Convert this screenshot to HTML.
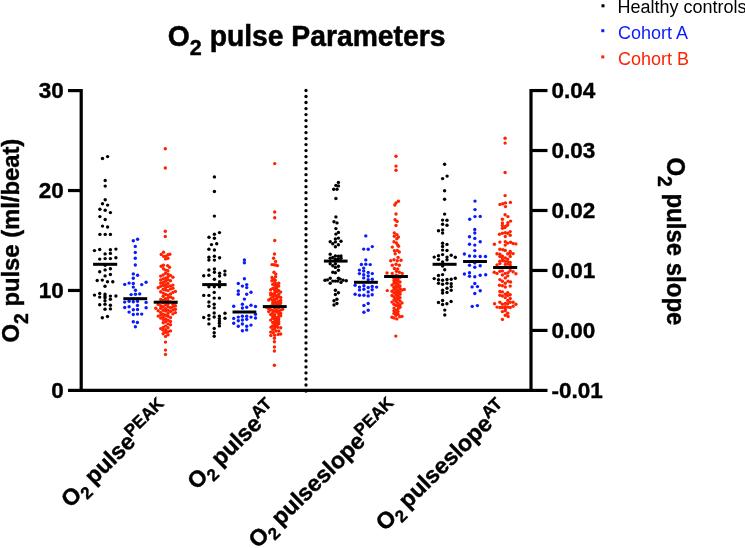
<!DOCTYPE html><html><head><meta charset="utf-8"><style>html,body{margin:0;padding:0;background:#fff;width:745px;height:548px;overflow:hidden;position:relative}svg{will-change:transform}</style></head><body><svg width="745" height="548" viewBox="0 0 745 548" style="position:absolute;left:0;top:0">
<g stroke="#000" stroke-width="3.2" fill="none" stroke-linecap="butt">
<path d="M81.2,89 V391.5"/>
<path d="M79.5,390.4 H531"/>
<path d="M531,89 V391.5"/>
<path d="M68,90.61 H81"/>
<path d="M68,190.54 H81"/>
<path d="M68,290.47 H81"/>
<path d="M68,390.40 H81"/>
<path d="M531,90.55 H547.5"/>
<path d="M531,150.52 H547.5"/>
<path d="M531,210.49 H547.5"/>
<path d="M531,270.46 H547.5"/>
<path d="M531,330.43 H547.5"/>
<path d="M531,390.40 H547.5"/>
</g>
<g fill="#000">
<circle cx="306" cy="90.50" r="1.65"/>
<circle cx="306" cy="96.51" r="1.65"/>
<circle cx="306" cy="102.52" r="1.65"/>
<circle cx="306" cy="108.53" r="1.65"/>
<circle cx="306" cy="114.54" r="1.65"/>
<circle cx="306" cy="120.55" r="1.65"/>
<circle cx="306" cy="126.56" r="1.65"/>
<circle cx="306" cy="132.57" r="1.65"/>
<circle cx="306" cy="138.58" r="1.65"/>
<circle cx="306" cy="144.59" r="1.65"/>
<circle cx="306" cy="150.60" r="1.65"/>
<circle cx="306" cy="156.61" r="1.65"/>
<circle cx="306" cy="162.62" r="1.65"/>
<circle cx="306" cy="168.63" r="1.65"/>
<circle cx="306" cy="174.64" r="1.65"/>
<circle cx="306" cy="180.65" r="1.65"/>
<circle cx="306" cy="186.66" r="1.65"/>
<circle cx="306" cy="192.67" r="1.65"/>
<circle cx="306" cy="198.68" r="1.65"/>
<circle cx="306" cy="204.69" r="1.65"/>
<circle cx="306" cy="210.70" r="1.65"/>
<circle cx="306" cy="216.71" r="1.65"/>
<circle cx="306" cy="222.72" r="1.65"/>
<circle cx="306" cy="228.73" r="1.65"/>
<circle cx="306" cy="234.74" r="1.65"/>
<circle cx="306" cy="240.75" r="1.65"/>
<circle cx="306" cy="246.76" r="1.65"/>
<circle cx="306" cy="252.77" r="1.65"/>
<circle cx="306" cy="258.78" r="1.65"/>
<circle cx="306" cy="264.79" r="1.65"/>
<circle cx="306" cy="270.80" r="1.65"/>
<circle cx="306" cy="276.81" r="1.65"/>
<circle cx="306" cy="282.82" r="1.65"/>
<circle cx="306" cy="288.83" r="1.65"/>
<circle cx="306" cy="294.84" r="1.65"/>
<circle cx="306" cy="300.85" r="1.65"/>
<circle cx="306" cy="306.86" r="1.65"/>
<circle cx="306" cy="312.87" r="1.65"/>
<circle cx="306" cy="318.88" r="1.65"/>
<circle cx="306" cy="324.89" r="1.65"/>
<circle cx="306" cy="330.90" r="1.65"/>
<circle cx="306" cy="336.91" r="1.65"/>
<circle cx="306" cy="342.92" r="1.65"/>
<circle cx="306" cy="348.93" r="1.65"/>
<circle cx="306" cy="354.94" r="1.65"/>
<circle cx="306" cy="360.95" r="1.65"/>
<circle cx="306" cy="366.96" r="1.65"/>
<circle cx="306" cy="372.97" r="1.65"/>
<circle cx="306" cy="378.98" r="1.65"/>
<circle cx="306" cy="384.99" r="1.65"/>
<circle cx="306" cy="391.00" r="1.65"/>
</g>
<g font-family="Liberation Sans" font-weight="bold" font-size="22.5" fill="#000" stroke="#000" stroke-width="0.4">
<text transform="translate(63.7,98.31) scale(1,1.02)" text-anchor="end">30</text>
<text transform="translate(63.7,198.24) scale(1,1.02)" text-anchor="end">20</text>
<text transform="translate(63.7,298.17) scale(1,1.02)" text-anchor="end">10</text>
<text transform="translate(63.7,398.10) scale(1,1.02)" text-anchor="end">0</text>
<text transform="translate(551.5,98.35) scale(1,1.0)">0.04</text>
<text transform="translate(551.5,158.32) scale(1,1.0)">0.03</text>
<text transform="translate(551.5,218.29) scale(1,1.0)">0.02</text>
<text transform="translate(551.5,278.26) scale(1,1.0)">0.01</text>
<text transform="translate(551.5,338.23) scale(1,1.0)">0.00</text>
<text transform="translate(551.5,398.20) scale(1,1.0)">-0.01</text>
</g>
<text transform="translate(167.8,46.3) scale(1,1.04)" font-family="Liberation Sans" font-weight="bold" font-size="28.3" fill="#000" stroke="#000" stroke-width="0.5">O<tspan font-size="21.5" dy="8.4">2</tspan><tspan dy="-8.4"> pulse Parameters</tspan></text>
<g font-family="Liberation Sans" font-size="18">
<text transform="translate(617.5,13.2) scale(1,1.07)" fill="#000">Healthy controls</text>
<text transform="translate(617.9,38.9) scale(1,1.07)" fill="#0a1cff">Cohort A</text>
<text transform="translate(617.9,64.7) scale(1,1.07)" fill="#ff2200">Cohort B</text>
</g>
<rect x="601.5" y="4.3" width="3" height="3" fill="#000"/>
<rect x="601.3" y="29.2" width="3" height="3" fill="#0a1cff"/>
<rect x="601.3" y="55.4" width="3" height="3" fill="#ff2200"/>
<text transform="translate(18.6,342.4) rotate(-90) scale(1,1.04)" font-family="Liberation Sans" font-weight="bold" font-size="23.8" fill="#000" stroke="#000" stroke-width="0.4">O<tspan font-size="19.3" dy="8.6">2</tspan><tspan dy="-8.6"> pulse (ml/beat)</tspan></text>
<text transform="translate(667,157.4) rotate(90) scale(1,1.04)" font-family="Liberation Sans" font-weight="bold" font-size="24" fill="#000" stroke="#000" stroke-width="0.4">O<tspan font-size="19.3" dy="8.8">2</tspan><tspan dy="-8.8"> pulse slope</tspan></text>
<text transform="translate(170,410) rotate(-44.4) translate(0,0.5)" text-anchor="end" font-family="Liberation Sans" font-weight="bold" font-size="23" fill="#000" stroke="#000" stroke-width="0.4">O<tspan font-size="17" dy="6">2</tspan><tspan dy="-6" dx="-0.8"> pulse</tspan><tspan font-size="17" dy="-8">PEAK</tspan></text>
<text transform="translate(278,410) rotate(-44.4) translate(0,0.5)" text-anchor="end" font-family="Liberation Sans" font-weight="bold" font-size="23" fill="#000" stroke="#000" stroke-width="0.4">O<tspan font-size="17" dy="6">2</tspan><tspan dy="-6" dx="-0.8"> pulse</tspan><tspan font-size="17" dy="-8">AT</tspan></text>
<text transform="translate(399.8,409.3) rotate(-44.4) translate(0,0.5)" text-anchor="end" font-family="Liberation Sans" font-weight="bold" font-size="23" fill="#000" stroke="#000" stroke-width="0.4">O<tspan font-size="17" dy="6">2</tspan><tspan dy="-6" dx="-1.8"> pulseslope</tspan><tspan font-size="17" dy="-8">PEAK</tspan></text>
<text transform="translate(508.5,410) rotate(-44.4) translate(0,0.5)" text-anchor="end" font-family="Liberation Sans" font-weight="bold" font-size="23" fill="#000" stroke="#000" stroke-width="0.4">O<tspan font-size="17" dy="6">2</tspan><tspan dy="-6" dx="-1.8"> pulseslope</tspan><tspan font-size="17" dy="-8">AT</tspan></text>
<g fill="#000">
<circle cx="102.5" cy="158.5" r="1.7"/>
<circle cx="107.6" cy="156.6" r="1.7"/>
<circle cx="105.2" cy="180.5" r="1.7"/>
<circle cx="105.2" cy="186.1" r="1.7"/>
<circle cx="105.2" cy="199.7" r="1.7"/>
<circle cx="102.5" cy="203.8" r="1.7"/>
<circle cx="107.6" cy="205.1" r="1.7"/>
<circle cx="99.9" cy="209.3" r="1.7"/>
<circle cx="105.2" cy="210.3" r="1.7"/>
<circle cx="110.4" cy="212.6" r="1.7"/>
<circle cx="99.9" cy="216.6" r="1.7"/>
<circle cx="105.2" cy="219.5" r="1.7"/>
<circle cx="102.5" cy="226.1" r="1.7"/>
<circle cx="107.6" cy="227.0" r="1.7"/>
<circle cx="99.9" cy="234.4" r="1.7"/>
<circle cx="105.2" cy="234.4" r="1.7"/>
<circle cx="110.4" cy="234.4" r="1.7"/>
<circle cx="94.5" cy="250.6" r="1.7"/>
<circle cx="99.7" cy="249.5" r="1.7"/>
<circle cx="110.4" cy="249.7" r="1.7"/>
<circle cx="115.9" cy="249.1" r="1.7"/>
<circle cx="105.1" cy="253.9" r="1.7"/>
<circle cx="110.4" cy="253.4" r="1.7"/>
<circle cx="99.7" cy="259.1" r="1.7"/>
<circle cx="105.1" cy="258.6" r="1.7"/>
<circle cx="110.4" cy="258.6" r="1.7"/>
<circle cx="115.9" cy="257.7" r="1.7"/>
<circle cx="105.1" cy="265.2" r="1.7"/>
<circle cx="110.4" cy="268.8" r="1.7"/>
<circle cx="105.1" cy="269.9" r="1.7"/>
<circle cx="99.7" cy="271.8" r="1.7"/>
<circle cx="110.4" cy="274.5" r="1.7"/>
<circle cx="105.1" cy="275.9" r="1.7"/>
<circle cx="97.2" cy="280.5" r="1.7"/>
<circle cx="102.3" cy="280.1" r="1.7"/>
<circle cx="107.5" cy="281.8" r="1.7"/>
<circle cx="112.8" cy="281.8" r="1.7"/>
<circle cx="105.0" cy="286.3" r="1.7"/>
<circle cx="94.5" cy="295.1" r="1.7"/>
<circle cx="99.7" cy="293.5" r="1.7"/>
<circle cx="99.7" cy="297.1" r="1.7"/>
<circle cx="105.0" cy="294.1" r="1.7"/>
<circle cx="105.0" cy="296.0" r="1.7"/>
<circle cx="105.0" cy="297.8" r="1.7"/>
<circle cx="110.4" cy="296.1" r="1.7"/>
<circle cx="110.4" cy="299.3" r="1.7"/>
<circle cx="115.9" cy="296.0" r="1.7"/>
<circle cx="105.0" cy="300.7" r="1.7"/>
<circle cx="105.0" cy="304.3" r="1.7"/>
<circle cx="99.7" cy="304.8" r="1.7"/>
<circle cx="110.4" cy="305.2" r="1.7"/>
<circle cx="110.4" cy="308.9" r="1.7"/>
<circle cx="105.0" cy="309.3" r="1.7"/>
<circle cx="102.3" cy="317.7" r="1.7"/>
<circle cx="107.5" cy="316.5" r="1.7"/>
</g>
<g fill="#000">
<circle cx="214.4" cy="176.9" r="1.7"/>
<circle cx="214.4" cy="191.5" r="1.7"/>
<circle cx="214.4" cy="216.1" r="1.7"/>
<circle cx="219.5" cy="232.6" r="1.7"/>
<circle cx="214.4" cy="234.3" r="1.7"/>
<circle cx="209.0" cy="237.3" r="1.7"/>
<circle cx="214.4" cy="238.3" r="1.7"/>
<circle cx="211.5" cy="244.6" r="1.7"/>
<circle cx="216.7" cy="243.8" r="1.7"/>
<circle cx="208.9" cy="249.2" r="1.7"/>
<circle cx="214.4" cy="250.0" r="1.7"/>
<circle cx="208.9" cy="257.3" r="1.7"/>
<circle cx="208.9" cy="260.1" r="1.7"/>
<circle cx="214.4" cy="256.2" r="1.7"/>
<circle cx="214.4" cy="260.1" r="1.7"/>
<circle cx="219.6" cy="257.7" r="1.7"/>
<circle cx="208.9" cy="270.0" r="1.7"/>
<circle cx="214.4" cy="269.0" r="1.7"/>
<circle cx="214.4" cy="272.2" r="1.7"/>
<circle cx="219.6" cy="273.2" r="1.7"/>
<circle cx="219.6" cy="276.1" r="1.7"/>
<circle cx="224.9" cy="271.1" r="1.7"/>
<circle cx="224.9" cy="274.7" r="1.7"/>
<circle cx="203.7" cy="275.7" r="1.7"/>
<circle cx="208.9" cy="275.3" r="1.7"/>
<circle cx="214.4" cy="279.3" r="1.7"/>
<circle cx="219.6" cy="281.8" r="1.7"/>
<circle cx="208.9" cy="286.8" r="1.7"/>
<circle cx="214.3" cy="286.8" r="1.7"/>
<circle cx="219.5" cy="286.8" r="1.7"/>
<circle cx="214.2" cy="292.4" r="1.7"/>
<circle cx="203.7" cy="295.4" r="1.7"/>
<circle cx="208.9" cy="295.4" r="1.7"/>
<circle cx="214.2" cy="298.1" r="1.7"/>
<circle cx="219.4" cy="298.1" r="1.7"/>
<circle cx="208.9" cy="302.0" r="1.7"/>
<circle cx="208.9" cy="306.2" r="1.7"/>
<circle cx="214.2" cy="304.2" r="1.7"/>
<circle cx="214.2" cy="307.9" r="1.7"/>
<circle cx="214.2" cy="313.0" r="1.7"/>
<circle cx="225.0" cy="313.2" r="1.7"/>
<circle cx="203.7" cy="317.5" r="1.7"/>
<circle cx="208.9" cy="315.4" r="1.7"/>
<circle cx="208.9" cy="319.1" r="1.7"/>
<circle cx="214.2" cy="317.0" r="1.7"/>
<circle cx="219.4" cy="316.1" r="1.7"/>
<circle cx="219.4" cy="318.6" r="1.7"/>
<circle cx="219.4" cy="320.9" r="1.7"/>
<circle cx="219.4" cy="323.2" r="1.7"/>
<circle cx="219.4" cy="325.9" r="1.7"/>
<circle cx="225.0" cy="318.2" r="1.7"/>
<circle cx="208.9" cy="323.9" r="1.7"/>
<circle cx="214.2" cy="328.5" r="1.7"/>
<circle cx="214.2" cy="332.8" r="1.7"/>
<circle cx="214.2" cy="336.2" r="1.7"/>
</g>
<g fill="#000">
<circle cx="338.4" cy="182.4" r="1.7"/>
<circle cx="335.9" cy="185.4" r="1.7"/>
<circle cx="338.4" cy="185.9" r="1.7"/>
<circle cx="333.7" cy="189.2" r="1.7"/>
<circle cx="337.0" cy="189.2" r="1.7"/>
<circle cx="335.9" cy="198.5" r="1.7"/>
<circle cx="335.9" cy="216.9" r="1.7"/>
<circle cx="334.0" cy="221.8" r="1.7"/>
<circle cx="337.0" cy="222.9" r="1.7"/>
<circle cx="335.9" cy="228.6" r="1.7"/>
<circle cx="338.4" cy="232.4" r="1.7"/>
<circle cx="335.9" cy="234.1" r="1.7"/>
<circle cx="335.4" cy="238.9" r="1.7"/>
<circle cx="338.4" cy="238.1" r="1.7"/>
<circle cx="330.2" cy="241.7" r="1.7"/>
<circle cx="335.4" cy="241.9" r="1.7"/>
<circle cx="341.0" cy="241.3" r="1.7"/>
<circle cx="332.8" cy="243.8" r="1.7"/>
<circle cx="338.4" cy="244.8" r="1.7"/>
<circle cx="335.4" cy="246.8" r="1.7"/>
<circle cx="330.2" cy="254.2" r="1.7"/>
<circle cx="335.4" cy="255.9" r="1.7"/>
<circle cx="338.4" cy="256.1" r="1.7"/>
<circle cx="341.0" cy="255.9" r="1.7"/>
<circle cx="330.2" cy="258.3" r="1.7"/>
<circle cx="332.8" cy="257.5" r="1.7"/>
<circle cx="335.4" cy="259.2" r="1.7"/>
<circle cx="338.4" cy="258.8" r="1.7"/>
<circle cx="341.0" cy="258.3" r="1.7"/>
<circle cx="330.2" cy="263.7" r="1.7"/>
<circle cx="332.8" cy="265.7" r="1.7"/>
<circle cx="335.4" cy="263.7" r="1.7"/>
<circle cx="335.4" cy="267.4" r="1.7"/>
<circle cx="338.4" cy="266.2" r="1.7"/>
<circle cx="338.4" cy="270.3" r="1.7"/>
<circle cx="332.8" cy="272.3" r="1.7"/>
<circle cx="335.4" cy="272.7" r="1.7"/>
<circle cx="325.0" cy="280.3" r="1.7"/>
<circle cx="327.4" cy="279.9" r="1.7"/>
<circle cx="330.2" cy="278.3" r="1.7"/>
<circle cx="330.2" cy="283.2" r="1.7"/>
<circle cx="332.8" cy="281.1" r="1.7"/>
<circle cx="335.4" cy="281.1" r="1.7"/>
<circle cx="337.7" cy="281.1" r="1.7"/>
<circle cx="338.4" cy="278.3" r="1.7"/>
<circle cx="340.2" cy="279.1" r="1.7"/>
<circle cx="341.0" cy="282.4" r="1.7"/>
<circle cx="343.1" cy="280.3" r="1.7"/>
<circle cx="346.3" cy="280.7" r="1.7"/>
<circle cx="335.4" cy="290.2" r="1.7"/>
<circle cx="338.4" cy="292.7" r="1.7"/>
<circle cx="335.4" cy="294.5" r="1.7"/>
<circle cx="336.9" cy="299.2" r="1.7"/>
<circle cx="334.0" cy="300.7" r="1.7"/>
<circle cx="336.9" cy="303.5" r="1.7"/>
<circle cx="334.0" cy="305.0" r="1.7"/>
</g>
<g fill="#000">
<circle cx="444.6" cy="164.3" r="1.7"/>
<circle cx="447.1" cy="176.1" r="1.7"/>
<circle cx="442.6" cy="178.6" r="1.7"/>
<circle cx="444.6" cy="190.8" r="1.7"/>
<circle cx="444.6" cy="199.2" r="1.7"/>
<circle cx="444.6" cy="214.1" r="1.7"/>
<circle cx="442.6" cy="220.1" r="1.7"/>
<circle cx="447.0" cy="220.3" r="1.7"/>
<circle cx="442.6" cy="224.3" r="1.7"/>
<circle cx="447.0" cy="225.3" r="1.7"/>
<circle cx="438.5" cy="230.8" r="1.7"/>
<circle cx="442.6" cy="230.0" r="1.7"/>
<circle cx="442.6" cy="233.1" r="1.7"/>
<circle cx="442.6" cy="243.2" r="1.7"/>
<circle cx="442.6" cy="246.5" r="1.7"/>
<circle cx="447.0" cy="244.4" r="1.7"/>
<circle cx="442.6" cy="250.1" r="1.7"/>
<circle cx="447.0" cy="250.5" r="1.7"/>
<circle cx="442.6" cy="254.6" r="1.7"/>
<circle cx="434.2" cy="257.1" r="1.7"/>
<circle cx="438.5" cy="255.7" r="1.7"/>
<circle cx="438.5" cy="259.4" r="1.7"/>
<circle cx="447.0" cy="257.1" r="1.7"/>
<circle cx="451.2" cy="255.3" r="1.7"/>
<circle cx="455.3" cy="257.3" r="1.7"/>
<circle cx="447.0" cy="259.8" r="1.7"/>
<circle cx="442.6" cy="262.0" r="1.7"/>
<circle cx="442.6" cy="266.1" r="1.7"/>
<circle cx="444.7" cy="269.8" r="1.7"/>
<circle cx="438.5" cy="275.5" r="1.7"/>
<circle cx="442.6" cy="274.6" r="1.7"/>
<circle cx="434.2" cy="278.6" r="1.7"/>
<circle cx="438.5" cy="279.8" r="1.7"/>
<circle cx="438.5" cy="283.3" r="1.7"/>
<circle cx="442.6" cy="280.3" r="1.7"/>
<circle cx="442.6" cy="284.2" r="1.7"/>
<circle cx="447.0" cy="279.5" r="1.7"/>
<circle cx="447.0" cy="283.3" r="1.7"/>
<circle cx="451.2" cy="279.2" r="1.7"/>
<circle cx="451.2" cy="283.8" r="1.7"/>
<circle cx="451.2" cy="286.6" r="1.7"/>
<circle cx="451.2" cy="290.3" r="1.7"/>
<circle cx="455.3" cy="278.2" r="1.7"/>
<circle cx="447.0" cy="288.3" r="1.7"/>
<circle cx="447.0" cy="292.4" r="1.7"/>
<circle cx="442.6" cy="290.2" r="1.7"/>
<circle cx="442.6" cy="293.0" r="1.7"/>
<circle cx="442.6" cy="300.5" r="1.7"/>
<circle cx="438.5" cy="302.5" r="1.7"/>
<circle cx="442.6" cy="304.5" r="1.7"/>
<circle cx="446.9" cy="303.8" r="1.7"/>
<circle cx="451.1" cy="301.5" r="1.7"/>
<circle cx="444.8" cy="310.1" r="1.7"/>
<circle cx="444.8" cy="315.0" r="1.7"/>
</g>
<g fill="#0a1cff">
<circle cx="133.3" cy="240.7" r="1.7"/>
<circle cx="137.6" cy="239.3" r="1.7"/>
<circle cx="135.3" cy="246.4" r="1.7"/>
<circle cx="135.3" cy="252.5" r="1.7"/>
<circle cx="135.3" cy="258.3" r="1.7"/>
<circle cx="135.3" cy="265.0" r="1.7"/>
<circle cx="133.3" cy="273.9" r="1.7"/>
<circle cx="137.6" cy="275.3" r="1.7"/>
<circle cx="133.3" cy="278.3" r="1.7"/>
<circle cx="124.7" cy="284.4" r="1.7"/>
<circle cx="129.1" cy="283.1" r="1.7"/>
<circle cx="133.3" cy="283.5" r="1.7"/>
<circle cx="141.7" cy="284.6" r="1.7"/>
<circle cx="146.1" cy="282.2" r="1.7"/>
<circle cx="133.3" cy="287.1" r="1.7"/>
<circle cx="135.5" cy="290.3" r="1.7"/>
<circle cx="131.1" cy="294.6" r="1.7"/>
<circle cx="135.5" cy="294.2" r="1.7"/>
<circle cx="139.7" cy="293.9" r="1.7"/>
<circle cx="124.7" cy="302.1" r="1.7"/>
<circle cx="129.1" cy="301.3" r="1.7"/>
<circle cx="133.3" cy="301.7" r="1.7"/>
<circle cx="137.5" cy="301.3" r="1.7"/>
<circle cx="146.1" cy="302.4" r="1.7"/>
<circle cx="137.5" cy="305.4" r="1.7"/>
<circle cx="124.7" cy="307.5" r="1.7"/>
<circle cx="129.1" cy="306.8" r="1.7"/>
<circle cx="146.1" cy="307.8" r="1.7"/>
<circle cx="133.3" cy="309.7" r="1.7"/>
<circle cx="137.5" cy="309.5" r="1.7"/>
<circle cx="129.1" cy="312.1" r="1.7"/>
<circle cx="133.3" cy="314.5" r="1.7"/>
<circle cx="137.5" cy="314.1" r="1.7"/>
<circle cx="141.7" cy="314.1" r="1.7"/>
<circle cx="133.3" cy="321.8" r="1.7"/>
<circle cx="137.4" cy="322.5" r="1.7"/>
<circle cx="135.4" cy="326.7" r="1.7"/>
<circle cx="133.3" cy="299.0" r="1.7"/>
<circle cx="137.5" cy="299.0" r="1.7"/>
</g>
<g fill="#0a1cff">
<circle cx="244.4" cy="259.9" r="1.7"/>
<circle cx="244.4" cy="262.7" r="1.7"/>
<circle cx="244.4" cy="278.7" r="1.7"/>
<circle cx="238.3" cy="283.5" r="1.7"/>
<circle cx="242.4" cy="286.1" r="1.7"/>
<circle cx="246.7" cy="284.6" r="1.7"/>
<circle cx="246.7" cy="287.6" r="1.7"/>
<circle cx="238.3" cy="291.0" r="1.7"/>
<circle cx="238.3" cy="294.3" r="1.7"/>
<circle cx="246.7" cy="294.3" r="1.7"/>
<circle cx="251.0" cy="292.3" r="1.7"/>
<circle cx="244.4" cy="299.1" r="1.7"/>
<circle cx="233.7" cy="306.2" r="1.7"/>
<circle cx="242.4" cy="304.2" r="1.7"/>
<circle cx="242.4" cy="308.0" r="1.7"/>
<circle cx="246.7" cy="307.3" r="1.7"/>
<circle cx="251.0" cy="305.2" r="1.7"/>
<circle cx="255.5" cy="306.5" r="1.7"/>
<circle cx="255.5" cy="314.3" r="1.7"/>
<circle cx="233.7" cy="318.4" r="1.7"/>
<circle cx="238.3" cy="317.1" r="1.7"/>
<circle cx="238.3" cy="320.8" r="1.7"/>
<circle cx="242.4" cy="316.3" r="1.7"/>
<circle cx="242.4" cy="320.0" r="1.7"/>
<circle cx="246.7" cy="316.3" r="1.7"/>
<circle cx="246.7" cy="319.2" r="1.7"/>
<circle cx="251.0" cy="317.1" r="1.7"/>
<circle cx="255.5" cy="318.0" r="1.7"/>
<circle cx="233.7" cy="323.3" r="1.7"/>
<circle cx="238.3" cy="326.2" r="1.7"/>
<circle cx="242.4" cy="324.0" r="1.7"/>
<circle cx="246.7" cy="326.2" r="1.7"/>
<circle cx="246.7" cy="329.9" r="1.7"/>
<circle cx="251.0" cy="325.1" r="1.7"/>
<circle cx="242.4" cy="330.7" r="1.7"/>
</g>
<g fill="#0a1cff">
<circle cx="365.8" cy="235.9" r="1.7"/>
<circle cx="363.7" cy="249.1" r="1.7"/>
<circle cx="368.2" cy="249.3" r="1.7"/>
<circle cx="372.3" cy="246.6" r="1.7"/>
<circle cx="365.8" cy="259.9" r="1.7"/>
<circle cx="361.4" cy="264.5" r="1.7"/>
<circle cx="365.8" cy="264.2" r="1.7"/>
<circle cx="370.2" cy="264.6" r="1.7"/>
<circle cx="363.7" cy="268.1" r="1.7"/>
<circle cx="359.4" cy="270.1" r="1.7"/>
<circle cx="363.7" cy="271.0" r="1.7"/>
<circle cx="359.4" cy="273.6" r="1.7"/>
<circle cx="363.7" cy="274.7" r="1.7"/>
<circle cx="368.2" cy="272.4" r="1.7"/>
<circle cx="368.2" cy="276.0" r="1.7"/>
<circle cx="372.3" cy="273.6" r="1.7"/>
<circle cx="363.7" cy="277.9" r="1.7"/>
<circle cx="372.3" cy="279.2" r="1.7"/>
<circle cx="368.2" cy="279.7" r="1.7"/>
<circle cx="355.1" cy="285.3" r="1.7"/>
<circle cx="359.5" cy="287.1" r="1.7"/>
<circle cx="363.9" cy="285.7" r="1.7"/>
<circle cx="368.2" cy="287.5" r="1.7"/>
<circle cx="372.2" cy="286.5" r="1.7"/>
<circle cx="376.6" cy="287.1" r="1.7"/>
<circle cx="359.5" cy="289.9" r="1.7"/>
<circle cx="363.9" cy="289.3" r="1.7"/>
<circle cx="372.2" cy="289.7" r="1.7"/>
<circle cx="368.2" cy="291.9" r="1.7"/>
<circle cx="355.1" cy="294.3" r="1.7"/>
<circle cx="359.5" cy="295.2" r="1.7"/>
<circle cx="363.9" cy="295.3" r="1.7"/>
<circle cx="368.2" cy="295.9" r="1.7"/>
<circle cx="372.2" cy="294.8" r="1.7"/>
<circle cx="368.2" cy="303.5" r="1.7"/>
<circle cx="363.9" cy="305.5" r="1.7"/>
<circle cx="368.2" cy="310.3" r="1.7"/>
<circle cx="363.9" cy="312.3" r="1.7"/>
</g>
<g fill="#0a1cff">
<circle cx="475.0" cy="201.1" r="1.7"/>
<circle cx="475.0" cy="209.6" r="1.7"/>
<circle cx="475.0" cy="216.6" r="1.7"/>
<circle cx="480.2" cy="216.4" r="1.7"/>
<circle cx="469.7" cy="219.2" r="1.7"/>
<circle cx="474.8" cy="229.5" r="1.7"/>
<circle cx="474.8" cy="233.0" r="1.7"/>
<circle cx="469.5" cy="236.7" r="1.7"/>
<circle cx="474.8" cy="238.4" r="1.7"/>
<circle cx="480.2" cy="241.7" r="1.7"/>
<circle cx="469.5" cy="244.3" r="1.7"/>
<circle cx="474.8" cy="245.1" r="1.7"/>
<circle cx="474.8" cy="250.6" r="1.7"/>
<circle cx="464.4" cy="254.0" r="1.7"/>
<circle cx="469.5" cy="256.0" r="1.7"/>
<circle cx="474.8" cy="256.2" r="1.7"/>
<circle cx="480.2" cy="256.5" r="1.7"/>
<circle cx="485.5" cy="256.5" r="1.7"/>
<circle cx="474.8" cy="262.9" r="1.7"/>
<circle cx="469.5" cy="265.2" r="1.7"/>
<circle cx="474.8" cy="267.2" r="1.7"/>
<circle cx="480.2" cy="265.8" r="1.7"/>
<circle cx="464.4" cy="274.0" r="1.7"/>
<circle cx="469.5" cy="272.8" r="1.7"/>
<circle cx="469.5" cy="276.2" r="1.7"/>
<circle cx="474.8" cy="276.7" r="1.7"/>
<circle cx="480.2" cy="275.3" r="1.7"/>
<circle cx="485.7" cy="274.8" r="1.7"/>
<circle cx="474.8" cy="283.5" r="1.7"/>
<circle cx="472.1" cy="286.9" r="1.7"/>
<circle cx="477.5" cy="286.6" r="1.7"/>
<circle cx="480.2" cy="290.7" r="1.7"/>
<circle cx="474.8" cy="293.5" r="1.7"/>
<circle cx="472.2" cy="306.4" r="1.7"/>
<circle cx="477.4" cy="305.6" r="1.7"/>
</g>
<g fill="#ff2200">
<circle cx="165.3" cy="148.8" r="1.7"/>
<circle cx="165.3" cy="168.0" r="1.7"/>
<circle cx="165.3" cy="231.2" r="1.7"/>
<circle cx="165.3" cy="236.5" r="1.7"/>
<circle cx="163.5" cy="252.2" r="1.7"/>
<circle cx="161.2" cy="254.5" r="1.7"/>
<circle cx="163.7" cy="256.4" r="1.7"/>
<circle cx="166.0" cy="256.1" r="1.7"/>
<circle cx="167.9" cy="254.8" r="1.7"/>
<circle cx="169.8" cy="254.3" r="1.7"/>
<circle cx="165.6" cy="258.9" r="1.7"/>
<circle cx="167.9" cy="258.2" r="1.7"/>
<circle cx="161.2" cy="266.3" r="1.7"/>
<circle cx="163.4" cy="265.3" r="1.7"/>
<circle cx="167.6" cy="265.6" r="1.7"/>
<circle cx="169.5" cy="267.2" r="1.7"/>
<circle cx="163.4" cy="268.8" r="1.7"/>
<circle cx="165.6" cy="270.1" r="1.7"/>
<circle cx="167.9" cy="270.8" r="1.7"/>
<circle cx="165.5" cy="342.1" r="1.7"/>
<circle cx="165.5" cy="350.1" r="1.7"/>
<circle cx="165.5" cy="354.4" r="1.7"/>
<circle cx="165.6" cy="321.8" r="1.7"/>
<circle cx="165.6" cy="315.3" r="1.7"/>
<circle cx="165.6" cy="304.9" r="1.7"/>
<circle cx="165.6" cy="298.8" r="1.7"/>
<circle cx="165.6" cy="281.3" r="1.7"/>
<circle cx="168.0" cy="323.9" r="1.7"/>
<circle cx="165.6" cy="336.4" r="1.7"/>
<circle cx="168.0" cy="306.6" r="1.7"/>
<circle cx="168.0" cy="334.8" r="1.7"/>
<circle cx="165.6" cy="301.6" r="1.7"/>
<circle cx="165.6" cy="278.2" r="1.7"/>
<circle cx="165.6" cy="290.1" r="1.7"/>
<circle cx="163.2" cy="306.7" r="1.7"/>
<circle cx="170.5" cy="321.4" r="1.7"/>
<circle cx="165.6" cy="326.1" r="1.7"/>
<circle cx="168.0" cy="320.2" r="1.7"/>
<circle cx="168.0" cy="279.7" r="1.7"/>
<circle cx="168.0" cy="297.7" r="1.7"/>
<circle cx="163.2" cy="319.6" r="1.7"/>
<circle cx="165.6" cy="273.3" r="1.7"/>
<circle cx="165.6" cy="308.6" r="1.7"/>
<circle cx="168.0" cy="300.6" r="1.7"/>
<circle cx="170.5" cy="301.9" r="1.7"/>
<circle cx="168.0" cy="310.3" r="1.7"/>
<circle cx="165.6" cy="332.4" r="1.7"/>
<circle cx="165.6" cy="287.5" r="1.7"/>
<circle cx="165.6" cy="311.1" r="1.7"/>
<circle cx="168.0" cy="286.6" r="1.7"/>
<circle cx="168.0" cy="316.3" r="1.7"/>
<circle cx="172.9" cy="306.9" r="1.7"/>
<circle cx="163.2" cy="300.2" r="1.7"/>
<circle cx="165.6" cy="294.5" r="1.7"/>
<circle cx="163.2" cy="296.3" r="1.7"/>
<circle cx="168.0" cy="276.8" r="1.7"/>
<circle cx="170.5" cy="307.7" r="1.7"/>
<circle cx="163.2" cy="310.3" r="1.7"/>
<circle cx="168.0" cy="327.8" r="1.7"/>
<circle cx="163.2" cy="285.4" r="1.7"/>
<circle cx="163.2" cy="317.1" r="1.7"/>
<circle cx="163.2" cy="275.0" r="1.7"/>
<circle cx="170.5" cy="275.4" r="1.7"/>
<circle cx="168.0" cy="283.4" r="1.7"/>
<circle cx="168.0" cy="290.6" r="1.7"/>
<circle cx="163.2" cy="289.3" r="1.7"/>
<circle cx="163.2" cy="322.8" r="1.7"/>
<circle cx="170.5" cy="311.5" r="1.7"/>
<circle cx="168.0" cy="274.1" r="1.7"/>
<circle cx="168.0" cy="304.0" r="1.7"/>
<circle cx="163.2" cy="314.2" r="1.7"/>
<circle cx="165.6" cy="329.7" r="1.7"/>
<circle cx="163.2" cy="333.7" r="1.7"/>
<circle cx="160.7" cy="305.7" r="1.7"/>
<circle cx="170.5" cy="324.7" r="1.7"/>
<circle cx="160.7" cy="299.5" r="1.7"/>
<circle cx="168.0" cy="295.1" r="1.7"/>
<circle cx="160.7" cy="312.4" r="1.7"/>
<circle cx="160.7" cy="283.1" r="1.7"/>
<circle cx="163.2" cy="278.9" r="1.7"/>
<circle cx="172.9" cy="313.9" r="1.7"/>
<circle cx="163.2" cy="302.8" r="1.7"/>
<circle cx="160.7" cy="308.3" r="1.7"/>
<circle cx="170.5" cy="280.8" r="1.7"/>
<circle cx="170.5" cy="293.9" r="1.7"/>
<circle cx="170.5" cy="297.0" r="1.7"/>
<circle cx="172.9" cy="310.0" r="1.7"/>
<circle cx="168.0" cy="331.6" r="1.7"/>
<circle cx="175.4" cy="312.6" r="1.7"/>
<circle cx="172.9" cy="304.3" r="1.7"/>
<circle cx="160.7" cy="291.7" r="1.7"/>
<circle cx="163.2" cy="293.1" r="1.7"/>
<circle cx="158.2" cy="310.8" r="1.7"/>
<circle cx="160.7" cy="276.1" r="1.7"/>
<circle cx="163.2" cy="330.2" r="1.7"/>
<circle cx="163.2" cy="282.5" r="1.7"/>
<circle cx="172.9" cy="277.3" r="1.7"/>
<circle cx="175.4" cy="305.9" r="1.7"/>
<circle cx="160.7" cy="280.0" r="1.7"/>
<circle cx="170.5" cy="330.9" r="1.7"/>
<circle cx="160.7" cy="328.6" r="1.7"/>
<circle cx="170.5" cy="288.9" r="1.7"/>
<circle cx="168.0" cy="313.4" r="1.7"/>
<circle cx="163.2" cy="327.5" r="1.7"/>
<circle cx="160.7" cy="286.2" r="1.7"/>
<circle cx="172.9" cy="288.3" r="1.7"/>
<circle cx="172.9" cy="292.4" r="1.7"/>
<circle cx="170.5" cy="317.5" r="1.7"/>
<circle cx="175.4" cy="291.4" r="1.7"/>
<circle cx="172.9" cy="298.3" r="1.7"/>
<circle cx="170.5" cy="285.9" r="1.7"/>
<circle cx="165.6" cy="319.0" r="1.7"/>
<circle cx="158.2" cy="287.7" r="1.7"/>
<circle cx="158.2" cy="304.4" r="1.7"/>
<circle cx="172.9" cy="285.1" r="1.7"/>
<circle cx="160.7" cy="315.1" r="1.7"/>
<circle cx="175.4" cy="309.2" r="1.7"/>
<circle cx="158.2" cy="316.1" r="1.7"/>
<circle cx="165.6" cy="284.6" r="1.7"/>
<circle cx="155.8" cy="308.2" r="1.7"/>
<circle cx="160.7" cy="318.1" r="1.7"/>
<circle cx="175.4" cy="303.1" r="1.7"/>
</g>
<g fill="#ff2200">
<circle cx="274.7" cy="163.6" r="1.7"/>
<circle cx="274.7" cy="212.0" r="1.7"/>
<circle cx="274.7" cy="217.7" r="1.7"/>
<circle cx="274.7" cy="240.5" r="1.7"/>
<circle cx="274.5" cy="254.0" r="1.7"/>
<circle cx="273.6" cy="258.3" r="1.7"/>
<circle cx="275.6" cy="261.4" r="1.7"/>
<circle cx="272.0" cy="264.6" r="1.7"/>
<circle cx="274.0" cy="264.7" r="1.7"/>
<circle cx="275.9" cy="265.0" r="1.7"/>
<circle cx="277.5" cy="265.6" r="1.7"/>
<circle cx="274.0" cy="272.3" r="1.7"/>
<circle cx="275.8" cy="274.1" r="1.7"/>
<circle cx="272.0" cy="277.5" r="1.7"/>
<circle cx="275.6" cy="276.8" r="1.7"/>
<circle cx="273.6" cy="279.1" r="1.7"/>
<circle cx="272.0" cy="280.7" r="1.7"/>
<circle cx="275.2" cy="280.3" r="1.7"/>
<circle cx="271.1" cy="327.3" r="1.7"/>
<circle cx="277.7" cy="327.3" r="1.7"/>
<circle cx="276.0" cy="331.1" r="1.7"/>
<circle cx="273.3" cy="332.8" r="1.7"/>
<circle cx="270.9" cy="335.5" r="1.7"/>
<circle cx="278.2" cy="334.4" r="1.7"/>
<circle cx="274.4" cy="338.3" r="1.7"/>
<circle cx="274.4" cy="341.8" r="1.7"/>
<circle cx="274.4" cy="347.0" r="1.7"/>
<circle cx="274.4" cy="351.0" r="1.7"/>
<circle cx="274.4" cy="365.3" r="1.7"/>
<circle cx="274.7" cy="314.7" r="1.7"/>
<circle cx="274.7" cy="285.1" r="1.7"/>
<circle cx="274.7" cy="287.8" r="1.7"/>
<circle cx="274.7" cy="321.6" r="1.7"/>
<circle cx="276.7" cy="323.0" r="1.7"/>
<circle cx="274.7" cy="299.0" r="1.7"/>
<circle cx="274.7" cy="335.2" r="1.7"/>
<circle cx="274.7" cy="295.4" r="1.7"/>
<circle cx="274.7" cy="311.1" r="1.7"/>
<circle cx="276.7" cy="298.5" r="1.7"/>
<circle cx="276.7" cy="289.1" r="1.7"/>
<circle cx="274.7" cy="319.3" r="1.7"/>
<circle cx="276.7" cy="317.7" r="1.7"/>
<circle cx="276.7" cy="312.1" r="1.7"/>
<circle cx="274.7" cy="324.2" r="1.7"/>
<circle cx="274.7" cy="290.4" r="1.7"/>
<circle cx="276.7" cy="286.7" r="1.7"/>
<circle cx="272.7" cy="316.0" r="1.7"/>
<circle cx="272.7" cy="310.5" r="1.7"/>
<circle cx="272.7" cy="329.6" r="1.7"/>
<circle cx="276.7" cy="309.9" r="1.7"/>
<circle cx="274.7" cy="326.9" r="1.7"/>
<circle cx="274.7" cy="307.9" r="1.7"/>
<circle cx="276.7" cy="306.8" r="1.7"/>
<circle cx="272.7" cy="296.9" r="1.7"/>
<circle cx="276.7" cy="320.5" r="1.7"/>
<circle cx="278.7" cy="314.1" r="1.7"/>
<circle cx="274.7" cy="303.9" r="1.7"/>
<circle cx="276.7" cy="304.6" r="1.7"/>
<circle cx="270.7" cy="309.7" r="1.7"/>
<circle cx="272.7" cy="322.4" r="1.7"/>
<circle cx="278.7" cy="290.8" r="1.7"/>
<circle cx="272.7" cy="318.2" r="1.7"/>
<circle cx="278.7" cy="304.0" r="1.7"/>
<circle cx="270.7" cy="298.8" r="1.7"/>
<circle cx="280.7" cy="310.1" r="1.7"/>
<circle cx="278.7" cy="319.1" r="1.7"/>
<circle cx="272.7" cy="288.4" r="1.7"/>
<circle cx="272.7" cy="312.7" r="1.7"/>
<circle cx="278.7" cy="331.0" r="1.7"/>
<circle cx="272.7" cy="326.0" r="1.7"/>
<circle cx="270.7" cy="314.5" r="1.7"/>
<circle cx="276.7" cy="302.1" r="1.7"/>
<circle cx="278.7" cy="311.5" r="1.7"/>
<circle cx="276.7" cy="291.6" r="1.7"/>
<circle cx="268.7" cy="311.6" r="1.7"/>
<circle cx="278.7" cy="307.7" r="1.7"/>
<circle cx="278.7" cy="316.6" r="1.7"/>
<circle cx="274.7" cy="301.5" r="1.7"/>
<circle cx="276.7" cy="296.0" r="1.7"/>
<circle cx="272.7" cy="294.1" r="1.7"/>
<circle cx="276.7" cy="284.0" r="1.7"/>
<circle cx="272.7" cy="305.4" r="1.7"/>
<circle cx="278.7" cy="294.2" r="1.7"/>
<circle cx="280.7" cy="313.4" r="1.7"/>
<circle cx="270.7" cy="289.7" r="1.7"/>
<circle cx="282.7" cy="309.3" r="1.7"/>
<circle cx="280.7" cy="334.0" r="1.7"/>
<circle cx="274.7" cy="329.0" r="1.7"/>
<circle cx="274.7" cy="293.1" r="1.7"/>
<circle cx="280.7" cy="327.8" r="1.7"/>
<circle cx="280.7" cy="305.7" r="1.7"/>
<circle cx="278.7" cy="323.8" r="1.7"/>
<circle cx="280.7" cy="315.7" r="1.7"/>
<circle cx="278.7" cy="321.4" r="1.7"/>
<circle cx="272.7" cy="300.5" r="1.7"/>
<circle cx="270.7" cy="293.1" r="1.7"/>
<circle cx="272.7" cy="303.0" r="1.7"/>
<circle cx="270.7" cy="306.2" r="1.7"/>
<circle cx="272.7" cy="284.4" r="1.7"/>
<circle cx="270.7" cy="295.1" r="1.7"/>
<circle cx="270.7" cy="332.1" r="1.7"/>
<circle cx="270.7" cy="320.1" r="1.7"/>
<circle cx="268.7" cy="308.7" r="1.7"/>
<circle cx="280.7" cy="292.1" r="1.7"/>
<circle cx="278.7" cy="301.2" r="1.7"/>
<circle cx="278.7" cy="286.0" r="1.7"/>
<circle cx="274.7" cy="317.0" r="1.7"/>
<circle cx="278.7" cy="283.2" r="1.7"/>
<circle cx="280.7" cy="300.5" r="1.7"/>
<circle cx="278.7" cy="296.8" r="1.7"/>
<circle cx="266.7" cy="307.2" r="1.7"/>
<circle cx="280.7" cy="302.8" r="1.7"/>
<circle cx="274.7" cy="282.4" r="1.7"/>
<circle cx="276.7" cy="325.3" r="1.7"/>
<circle cx="268.7" cy="300.0" r="1.7"/>
<circle cx="280.7" cy="297.5" r="1.7"/>
</g>
<g fill="#ff2200">
<circle cx="396.0" cy="156.2" r="1.7"/>
<circle cx="396.0" cy="166.1" r="1.7"/>
<circle cx="396.0" cy="170.2" r="1.7"/>
<circle cx="398.4" cy="201.2" r="1.7"/>
<circle cx="396.0" cy="202.9" r="1.7"/>
<circle cx="394.8" cy="205.0" r="1.7"/>
<circle cx="396.0" cy="214.0" r="1.7"/>
<circle cx="395.1" cy="219.8" r="1.7"/>
<circle cx="397.1" cy="221.4" r="1.7"/>
<circle cx="396.0" cy="225.5" r="1.7"/>
<circle cx="394.3" cy="232.9" r="1.7"/>
<circle cx="396.8" cy="234.6" r="1.7"/>
<circle cx="394.3" cy="236.2" r="1.7"/>
<circle cx="398.4" cy="237.0" r="1.7"/>
<circle cx="396.8" cy="238.7" r="1.7"/>
<circle cx="394.0" cy="241.8" r="1.7"/>
<circle cx="396.4" cy="243.0" r="1.7"/>
<circle cx="392.3" cy="247.1" r="1.7"/>
<circle cx="397.7" cy="245.0" r="1.7"/>
<circle cx="398.5" cy="246.3" r="1.7"/>
<circle cx="394.4" cy="250.8" r="1.7"/>
<circle cx="397.3" cy="250.4" r="1.7"/>
<circle cx="399.3" cy="252.0" r="1.7"/>
<circle cx="395.2" cy="253.7" r="1.7"/>
<circle cx="398.1" cy="257.4" r="1.7"/>
<circle cx="390.7" cy="260.7" r="1.7"/>
<circle cx="394.0" cy="259.8" r="1.7"/>
<circle cx="397.3" cy="260.7" r="1.7"/>
<circle cx="401.0" cy="260.2" r="1.7"/>
<circle cx="392.3" cy="265.2" r="1.7"/>
<circle cx="396.0" cy="264.3" r="1.7"/>
<circle cx="399.3" cy="265.2" r="1.7"/>
<circle cx="394.4" cy="268.5" r="1.7"/>
<circle cx="397.7" cy="268.9" r="1.7"/>
<circle cx="387.0" cy="273.0" r="1.7"/>
<circle cx="392.3" cy="273.4" r="1.7"/>
<circle cx="396.4" cy="271.3" r="1.7"/>
<circle cx="399.3" cy="272.2" r="1.7"/>
<circle cx="402.2" cy="273.4" r="1.7"/>
<circle cx="394.0" cy="318.0" r="1.7"/>
<circle cx="396.8" cy="318.9" r="1.7"/>
<circle cx="399.7" cy="316.8" r="1.7"/>
<circle cx="395.8" cy="336.1" r="1.7"/>
<circle cx="387.3" cy="290.6" r="1.7"/>
<circle cx="404.3" cy="289.4" r="1.7"/>
<circle cx="396.0" cy="288.3" r="1.7"/>
<circle cx="396.0" cy="312.7" r="1.7"/>
<circle cx="396.0" cy="294.8" r="1.7"/>
<circle cx="392.0" cy="317.2" r="1.7"/>
<circle cx="396.0" cy="298.2" r="1.7"/>
<circle cx="396.0" cy="310.1" r="1.7"/>
<circle cx="396.0" cy="277.5" r="1.7"/>
<circle cx="398.0" cy="276.0" r="1.7"/>
<circle cx="400.0" cy="288.8" r="1.7"/>
<circle cx="398.0" cy="311.6" r="1.7"/>
<circle cx="394.0" cy="313.4" r="1.7"/>
<circle cx="396.0" cy="301.4" r="1.7"/>
<circle cx="398.0" cy="299.3" r="1.7"/>
<circle cx="398.0" cy="314.3" r="1.7"/>
<circle cx="398.0" cy="303.3" r="1.7"/>
<circle cx="394.0" cy="300.0" r="1.7"/>
<circle cx="400.0" cy="297.6" r="1.7"/>
<circle cx="396.0" cy="305.4" r="1.7"/>
<circle cx="396.0" cy="279.7" r="1.7"/>
<circle cx="400.0" cy="277.3" r="1.7"/>
<circle cx="398.0" cy="286.7" r="1.7"/>
<circle cx="394.0" cy="289.4" r="1.7"/>
<circle cx="396.0" cy="291.7" r="1.7"/>
<circle cx="398.0" cy="278.9" r="1.7"/>
<circle cx="398.0" cy="309.1" r="1.7"/>
<circle cx="394.0" cy="278.2" r="1.7"/>
<circle cx="394.0" cy="304.3" r="1.7"/>
<circle cx="396.0" cy="315.3" r="1.7"/>
<circle cx="400.0" cy="300.9" r="1.7"/>
<circle cx="394.0" cy="287.2" r="1.7"/>
<circle cx="396.0" cy="282.6" r="1.7"/>
<circle cx="398.0" cy="296.2" r="1.7"/>
<circle cx="394.0" cy="310.8" r="1.7"/>
<circle cx="398.0" cy="284.1" r="1.7"/>
<circle cx="394.0" cy="308.1" r="1.7"/>
<circle cx="396.0" cy="285.7" r="1.7"/>
<circle cx="394.0" cy="280.7" r="1.7"/>
<circle cx="394.0" cy="296.9" r="1.7"/>
<circle cx="398.0" cy="290.5" r="1.7"/>
<circle cx="394.0" cy="283.3" r="1.7"/>
<circle cx="402.0" cy="290.0" r="1.7"/>
<circle cx="400.0" cy="307.3" r="1.7"/>
<circle cx="400.0" cy="292.0" r="1.7"/>
<circle cx="400.0" cy="282.0" r="1.7"/>
<circle cx="400.0" cy="286.0" r="1.7"/>
<circle cx="402.0" cy="316.4" r="1.7"/>
<circle cx="398.0" cy="293.4" r="1.7"/>
<circle cx="400.0" cy="304.9" r="1.7"/>
<circle cx="392.0" cy="295.5" r="1.7"/>
<circle cx="398.0" cy="281.1" r="1.7"/>
<circle cx="392.0" cy="285.1" r="1.7"/>
<circle cx="392.0" cy="276.6" r="1.7"/>
<circle cx="394.0" cy="292.9" r="1.7"/>
<circle cx="398.0" cy="306.3" r="1.7"/>
<circle cx="396.0" cy="275.2" r="1.7"/>
<circle cx="392.0" cy="291.2" r="1.7"/>
<circle cx="400.0" cy="294.2" r="1.7"/>
<circle cx="392.0" cy="302.1" r="1.7"/>
<circle cx="402.0" cy="302.9" r="1.7"/>
</g>
<g fill="#ff2200">
<circle cx="505.1" cy="138.2" r="1.7"/>
<circle cx="505.1" cy="143.1" r="1.7"/>
<circle cx="505.1" cy="172.5" r="1.7"/>
<circle cx="505.1" cy="195.6" r="1.7"/>
<circle cx="500.0" cy="204.4" r="1.7"/>
<circle cx="502.8" cy="203.8" r="1.7"/>
<circle cx="505.5" cy="202.9" r="1.7"/>
<circle cx="505.5" cy="206.6" r="1.7"/>
<circle cx="510.4" cy="202.4" r="1.7"/>
<circle cx="505.1" cy="214.8" r="1.7"/>
<circle cx="507.9" cy="216.6" r="1.7"/>
<circle cx="502.4" cy="219.3" r="1.7"/>
<circle cx="510.6" cy="221.1" r="1.7"/>
<circle cx="502.4" cy="222.9" r="1.7"/>
<circle cx="507.9" cy="222.8" r="1.7"/>
<circle cx="502.4" cy="225.4" r="1.7"/>
<circle cx="505.7" cy="226.2" r="1.7"/>
<circle cx="507.7" cy="225.0" r="1.7"/>
<circle cx="502.4" cy="228.3" r="1.7"/>
<circle cx="504.8" cy="227.5" r="1.7"/>
<circle cx="499.5" cy="234.2" r="1.7"/>
<circle cx="502.4" cy="233.2" r="1.7"/>
<circle cx="505.3" cy="232.8" r="1.7"/>
<circle cx="507.7" cy="233.2" r="1.7"/>
<circle cx="510.2" cy="231.6" r="1.7"/>
<circle cx="510.2" cy="235.3" r="1.7"/>
<circle cx="505.3" cy="236.5" r="1.7"/>
<circle cx="494.4" cy="244.3" r="1.7"/>
<circle cx="499.9" cy="242.1" r="1.7"/>
<circle cx="505.3" cy="241.8" r="1.7"/>
<circle cx="505.3" cy="245.1" r="1.7"/>
<circle cx="507.7" cy="243.1" r="1.7"/>
<circle cx="510.6" cy="242.3" r="1.7"/>
<circle cx="513.1" cy="243.5" r="1.7"/>
<circle cx="515.9" cy="243.9" r="1.7"/>
<circle cx="499.9" cy="249.2" r="1.7"/>
<circle cx="502.8" cy="249.7" r="1.7"/>
<circle cx="505.3" cy="250.5" r="1.7"/>
<circle cx="510.2" cy="251.5" r="1.7"/>
<circle cx="497.0" cy="253.8" r="1.7"/>
<circle cx="499.9" cy="254.2" r="1.7"/>
<circle cx="507.7" cy="253.8" r="1.7"/>
<circle cx="510.2" cy="253.3" r="1.7"/>
<circle cx="513.1" cy="253.6" r="1.7"/>
<circle cx="499.9" cy="256.6" r="1.7"/>
<circle cx="502.4" cy="256.2" r="1.7"/>
<circle cx="510.2" cy="256.4" r="1.7"/>
<circle cx="502.4" cy="258.7" r="1.7"/>
<circle cx="505.3" cy="257.9" r="1.7"/>
<circle cx="507.7" cy="259.1" r="1.7"/>
<circle cx="499.9" cy="261.2" r="1.7"/>
<circle cx="502.8" cy="260.7" r="1.7"/>
<circle cx="505.3" cy="261.2" r="1.7"/>
<circle cx="507.7" cy="261.6" r="1.7"/>
<circle cx="510.2" cy="262.4" r="1.7"/>
<circle cx="497.0" cy="264.9" r="1.7"/>
<circle cx="499.9" cy="263.6" r="1.7"/>
<circle cx="505.3" cy="264.4" r="1.7"/>
<circle cx="507.7" cy="264.0" r="1.7"/>
<circle cx="510.2" cy="264.9" r="1.7"/>
<circle cx="494.2" cy="272.2" r="1.7"/>
<circle cx="497.0" cy="273.4" r="1.7"/>
<circle cx="499.9" cy="271.3" r="1.7"/>
<circle cx="502.4" cy="270.9" r="1.7"/>
<circle cx="505.3" cy="273.4" r="1.7"/>
<circle cx="508.1" cy="272.6" r="1.7"/>
<circle cx="510.2" cy="270.5" r="1.7"/>
<circle cx="513.1" cy="271.8" r="1.7"/>
<circle cx="515.9" cy="273.8" r="1.7"/>
<circle cx="502.4" cy="275.0" r="1.7"/>
<circle cx="507.7" cy="275.9" r="1.7"/>
<circle cx="505.3" cy="277.9" r="1.7"/>
<circle cx="499.9" cy="279.6" r="1.7"/>
<circle cx="502.4" cy="281.2" r="1.7"/>
<circle cx="508.1" cy="281.2" r="1.7"/>
<circle cx="510.6" cy="282.0" r="1.7"/>
<circle cx="505.3" cy="283.3" r="1.7"/>
<circle cx="499.5" cy="285.3" r="1.7"/>
<circle cx="502.4" cy="285.7" r="1.7"/>
<circle cx="505.3" cy="287.0" r="1.7"/>
<circle cx="510.2" cy="286.1" r="1.7"/>
<circle cx="499.9" cy="291.5" r="1.7"/>
<circle cx="502.4" cy="291.9" r="1.7"/>
<circle cx="507.7" cy="292.7" r="1.7"/>
<circle cx="499.9" cy="295.2" r="1.7"/>
<circle cx="502.4" cy="296.0" r="1.7"/>
<circle cx="505.3" cy="294.3" r="1.7"/>
<circle cx="507.7" cy="295.6" r="1.7"/>
<circle cx="510.2" cy="294.8" r="1.7"/>
<circle cx="505.3" cy="297.6" r="1.7"/>
<circle cx="510.2" cy="298.5" r="1.7"/>
<circle cx="494.6" cy="303.8" r="1.7"/>
<circle cx="497.0" cy="307.1" r="1.7"/>
<circle cx="499.9" cy="302.2" r="1.7"/>
<circle cx="502.4" cy="304.2" r="1.7"/>
<circle cx="505.3" cy="303.4" r="1.7"/>
<circle cx="507.7" cy="300.5" r="1.7"/>
<circle cx="507.7" cy="303.8" r="1.7"/>
<circle cx="510.2" cy="302.2" r="1.7"/>
<circle cx="513.1" cy="302.2" r="1.7"/>
<circle cx="515.9" cy="304.2" r="1.7"/>
<circle cx="502.4" cy="307.5" r="1.7"/>
<circle cx="505.3" cy="306.7" r="1.7"/>
<circle cx="507.7" cy="307.1" r="1.7"/>
<circle cx="510.2" cy="307.5" r="1.7"/>
<circle cx="513.1" cy="306.3" r="1.7"/>
<circle cx="499.9" cy="307.5" r="1.7"/>
<circle cx="505.3" cy="309.0" r="1.7"/>
<circle cx="502.4" cy="311.6" r="1.7"/>
<circle cx="505.3" cy="310.8" r="1.7"/>
<circle cx="507.7" cy="313.2" r="1.7"/>
<circle cx="505.3" cy="315.3" r="1.7"/>
<circle cx="508.1" cy="316.5" r="1.7"/>
<circle cx="502.4" cy="319.4" r="1.7"/>
</g>
<rect x="93.1" y="262.80" width="24.1" height="3.0" fill="#000"/>
<rect x="123.3" y="297.20" width="23.9" height="3.0" fill="#000"/>
<rect x="153.7" y="300.70" width="24.0" height="3.0" fill="#000"/>
<rect x="202.2" y="283.10" width="24.4" height="3.0" fill="#000"/>
<rect x="232.5" y="310.50" width="23.8" height="3.0" fill="#000"/>
<rect x="262.8" y="305.10" width="23.9" height="3.0" fill="#000"/>
<rect x="323.9" y="259.60" width="23.7" height="3.0" fill="#000"/>
<rect x="354.0" y="280.80" width="23.9" height="3.0" fill="#000"/>
<rect x="384.1" y="275.00" width="23.8" height="3.0" fill="#000"/>
<rect x="432.6" y="262.80" width="24.0" height="3.0" fill="#000"/>
<rect x="463.1" y="260.00" width="23.8" height="3.0" fill="#000"/>
<rect x="493.1" y="266.00" width="24.1" height="3.0" fill="#000"/>
</svg></body></html>
